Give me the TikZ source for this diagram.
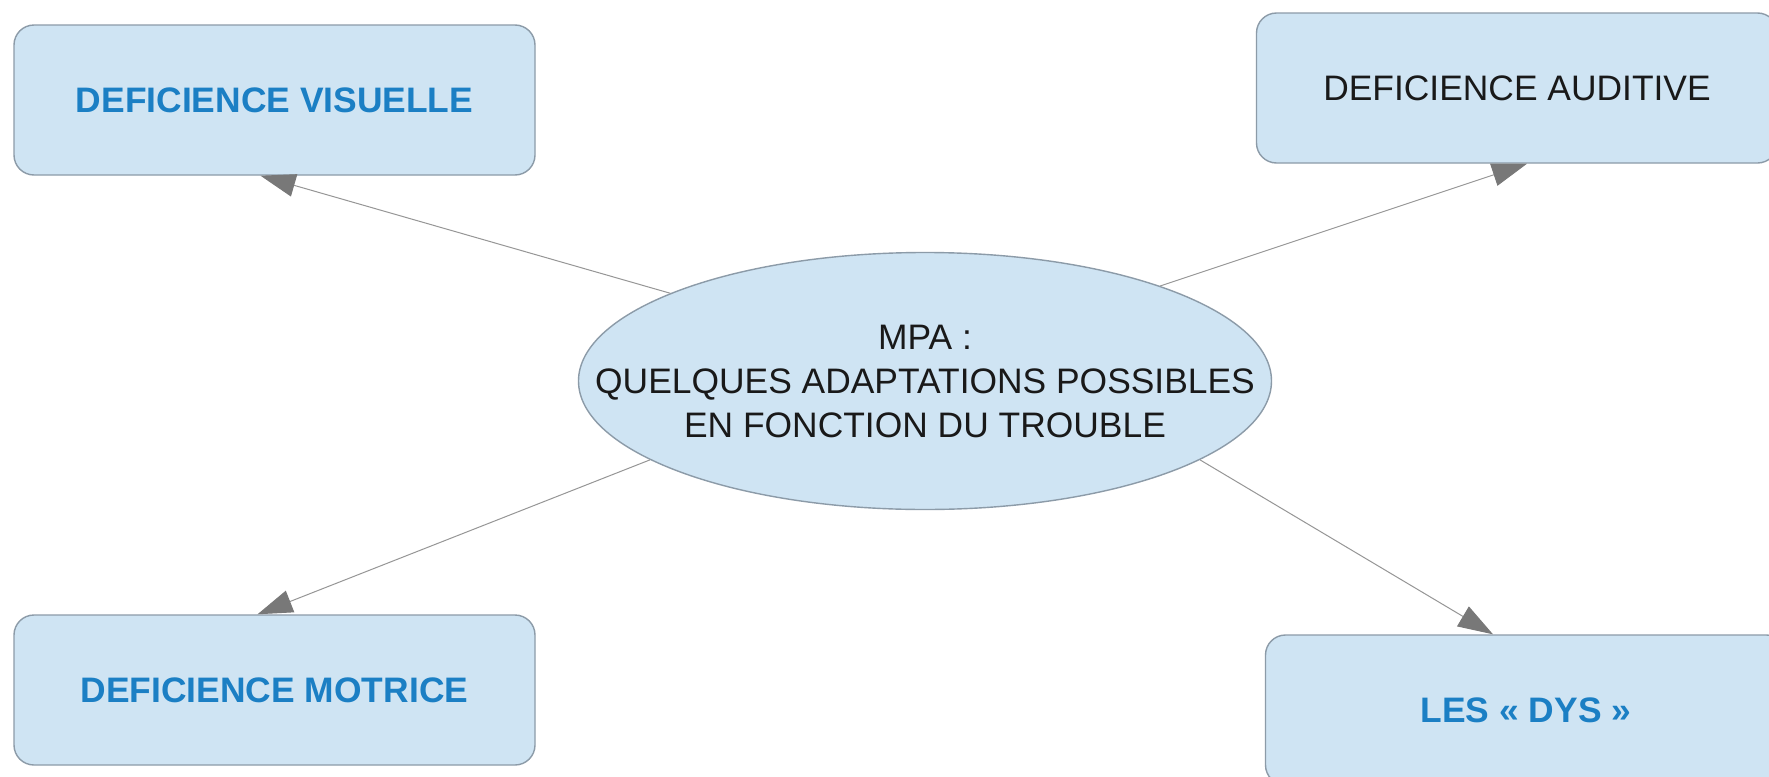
\documentclass[tikz,border=0pt]{standalone}
\usepackage{fontspec}
\setmainfont{Liberation Sans}
\usetikzlibrary{shapes.geometric,arrows.meta}
\definecolor{boxfill}{RGB}{207,228,243}
\definecolor{boxline}{RGB}{140,155,168}
\definecolor{bluetext}{RGB}{27,127,196}
\definecolor{arrowgray}{RGB}{120,120,120}
\definecolor{linegray}{RGB}{150,150,150}
\definecolor{darktext}{RGB}{25,25,25}
\tikzset{
  boxnode/.style={draw=boxline, line width=0.7pt, fill=boxfill, rounded corners=10pt,
    minimum width=260.5pt, minimum height=75pt, inner sep=0pt,
    font=\fontsize{17.7}{22}\selectfont},
  bluebold/.style={text=bluetext, font=\fontsize{17.7}{22}\selectfont\bfseries},
  centre/.style={ellipse, draw=boxline, line width=0.7pt, fill=boxfill,
    minimum width=346.5pt, minimum height=128.5pt, inner sep=0pt},
  centretext/.style={align=center, inner sep=0pt, text=darktext,
    font=\fontsize{17.7}{22}\selectfont},
  link/.style={draw=linegray, line width=0.5pt,
    -{Triangle[length=17.5pt, width=11.5pt, color=arrowgray, fill=arrowgray]}}
}
\begin{document}
\begin{tikzpicture}[x=0.5pt, y=-0.5pt]
\useasboundingbox (0,0) rectangle (1769,777);
\clip (0,0) rectangle (1769,777);
\fill[white] (0,0) rectangle (1769,777);
\node[boxnode, bluebold] (vis) at (274.5,100) {DEFICIENCE VISUELLE};
\node[boxnode, text=darktext] (aud) at (1517,88) {DEFICIENCE AUDITIVE};
\node[boxnode, bluebold] (mot) at (274.5,690) {DEFICIENCE MOTRICE};
\node[boxnode, bluebold] (dys) at (1526,710) {LES « DYS »};
\node[centre] (ell) at (925,381) {};
\node[centretext] (elltxt) at (ell.center) {MPA :\\QUELQUES ADAPTATIONS POSSIBLES\\EN FONCTION DU TROUBLE};
\coordinate (t1) at ([xshift=-7pt]vis.south);
\coordinate (t2) at ([xshift=5pt]aud.south);
\coordinate (t3) at ([xshift=-8.5pt]mot.north);
\coordinate (t4) at ([xshift=-16.5pt]dys.north);
\draw[link] (ell.161) -- (t1);
\draw[link] (ell.22) -- (t2);
\draw[link] (ell.196) -- (t3);
\draw[link] (ell.344) -- (t4);
\end{tikzpicture}
\end{document}
